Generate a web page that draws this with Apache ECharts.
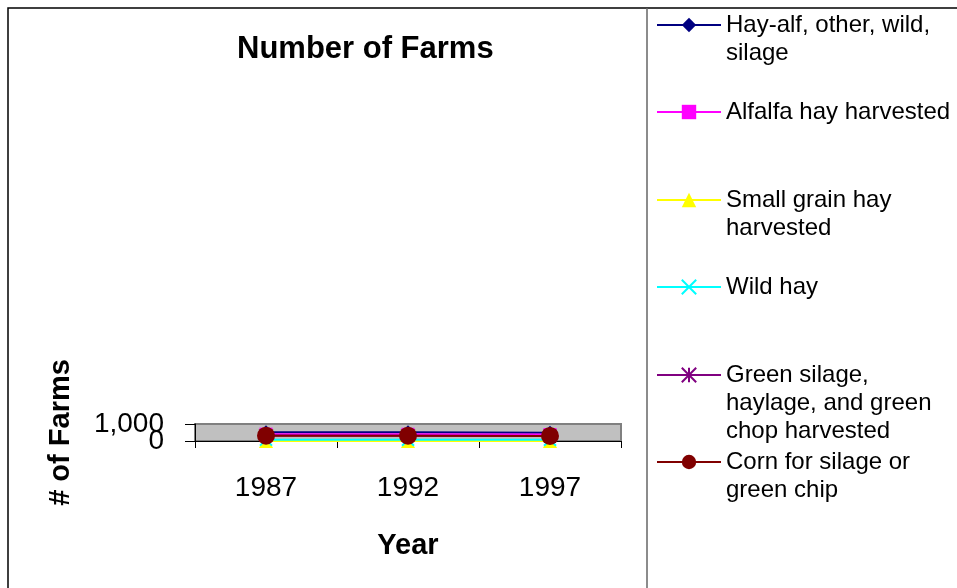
<!DOCTYPE html>
<html>
<head>
<meta charset="utf-8">
<script src="https://cdn.jsdelivr.net/npm/echarts@6/dist/echarts.min.js"></script>
<style>
  html, body { margin: 0; padding: 0; background: #fff; }
  #chart { width: 957px; height: 588px; }
</style>
</head>
<body>
<div id="chart"></div>
<script>
const years = ['1987', '1992', '1997'];
const seriesNames = [
  'Hay-alf, other, wild, silage',
  'Alfalfa hay harvested',
  'Small grain hay harvested',
  'Wild hay',
  'Green silage, haylage, and green chop harvested',
  'Corn for silage or green chip'
];
// how each legend entry wraps in the reference
const legendLines = [
  ['Hay-alf, other, wild,', 'silage'],
  ['Alfalfa hay harvested'],
  ['Small grain hay', 'harvested'],
  ['Wild hay'],
  ['Green silage,', 'haylage, and green', 'chop harvested'],
  ['Corn for silage or', 'green chip']
];
const hayAll = [520, 510, 480];
const alfalfa = [400, 395, 380];
const smallGrain = [5, 5, 5];
const wildHay = [80, 75, 70];
const greenSilage = [320, 315, 300];
const cornSilage = [315, 310, 300];
const yTicks = [0, 1000];

const chartDom = document.getElementById('chart');
const myChart = echarts.init(chartDom);

const colors = ['#000080', '#ff00ff', '#ffff00', '#00ffff', '#800080', '#800000'];
const symbols = [
  'diamond', 'rect', 'triangle',
  'path://M0,0L10,10M0,10L10,0',
  'path://M5,0L5,10M0,0L10,10M0,10L10,0',
  'circle'
];
const sizes = [14, 13, 14, 12, 12, 18];
const values = [hayAll, alfalfa, smallGrain, wildHay, greenSilage, cornSilage];
const font = 'Arial, "Liberation Sans", sans-serif';

const series = seriesNames.map((name, i) => {
  const stroked = symbols[i].startsWith('path://');
  return {
    name: name,
    type: 'line',
    yAxisIndex: 0,
    data: values[i],
    symbol: symbols[i],
    symbolSize: sizes[i],
    lineStyle: { color: colors[i], width: 2 },
    itemStyle: stroked
      ? { color: colors[i], borderColor: colors[i], borderWidth: 2 }
      : { color: colors[i] },
    animation: false
  };
});

// one legend per entry so each icon sits level with the first text line
const iconY = [25, 112, 200, 287, 375, 462];
const lh = 28;
const legends = seriesNames.map((name, i) => {
  const n = legendLines[i].length;
  return {
    orient: 'vertical',
    left: 656,
    top: iconY[i] - (2 * n - 1) * lh / 2,
    padding: 0,
    itemWidth: 64,
    itemHeight: 18,
    itemGap: 0,
    selectedMode: false,
    lineStyle: { width: 2 },
    textStyle: {
      fontFamily: font,
      fontSize: 24,
      lineHeight: lh,
      color: '#000'
    },
    data: [name],
    formatter: () => '\n'.repeat(n - 1) + legendLines[i].join('\n')
  };
});

const labelStyle = {
  margin: 31,
  fontFamily: font,
  fontSize: 28,
  color: '#000',
  hideOverlap: false,
  showMinLabel: true,
  showMaxLabel: true
};

// the two y labels overlap, so each one lives on its own copy of the axis
const option = {
  backgroundColor: '#fff',
  animation: false,
  title: {
    text: 'Number of Farms',
    left: 232,
    top: 29,
    textStyle: {
      fontFamily: font,
      fontSize: 31,
      fontWeight: 'bold',
      color: '#000'
    }
  },
  legend: legends,
  grid: {
    left: 195,
    right: 336,
    top: 424,
    height: 17,
    show: true,
    backgroundColor: '#c0c0c0',
    borderColor: '#808080',
    borderWidth: 2
  },
  xAxis: {
    type: 'category',
    data: years,
    boundaryGap: true,
    name: 'Year',
    nameLocation: 'middle',
    nameGap: 90,
    nameTextStyle: {
      fontFamily: font,
      fontSize: 29,
      fontWeight: 'bold',
      color: '#000'
    },
    axisLine: { show: true, lineStyle: { color: '#000', width: 1 } },
    axisTick: { show: true, length: 7, lineStyle: { color: '#000' } },
    axisLabel: {
      margin: 33,
      fontFamily: font,
      fontSize: 28,
      color: '#000'
    },
    splitLine: { show: false }
  },
  yAxis: [
    {
      type: 'value',
      position: 'left',
      min: yTicks[0],
      max: yTicks[yTicks.length - 1],
      interval: 1000,
      name: '# of Farms',
      nameLocation: 'middle',
      nameRotate: 90,
      nameGap: 120,
      nameTextStyle: {
        fontFamily: font,
        fontSize: 29,
        fontWeight: 'bold',
        color: '#000'
      },
      axisLine: { show: true, lineStyle: { color: '#000', width: 1 } },
      axisTick: { show: true, length: 10, lineStyle: { color: '#000' } },
      axisLabel: Object.assign({}, labelStyle, {
        formatter: v => (v === yTicks[0] ? v.toLocaleString('en-US') : '')
      }),
      splitLine: { show: false }
    },
    {
      type: 'value',
      position: 'left',
      offset: 0,
      min: yTicks[0],
      max: yTicks[yTicks.length - 1],
      interval: 1000,
      axisLine: { show: false },
      axisTick: { show: false },
      axisLabel: Object.assign({}, labelStyle, {
        formatter: v => (v === yTicks[1] ? v.toLocaleString('en-US') : '')
      }),
      splitLine: { show: false }
    }
  ],
  graphic: [
    {
      type: 'rect',
      shape: { x: 8, y: 8, width: 1000, height: 700 },
      style: { fill: 'none', stroke: '#000', lineWidth: 1.5 },
      silent: true,
      z: -10
    },
    {
      type: 'line',
      shape: { x1: 647, y1: 8, x2: 647, y2: 600 },
      style: { stroke: '#666', lineWidth: 1.5 },
      silent: true,
      z: -10
    }
  ],
  series: series
};

option && myChart.setOption(option);
</script>
</body>
</html>
